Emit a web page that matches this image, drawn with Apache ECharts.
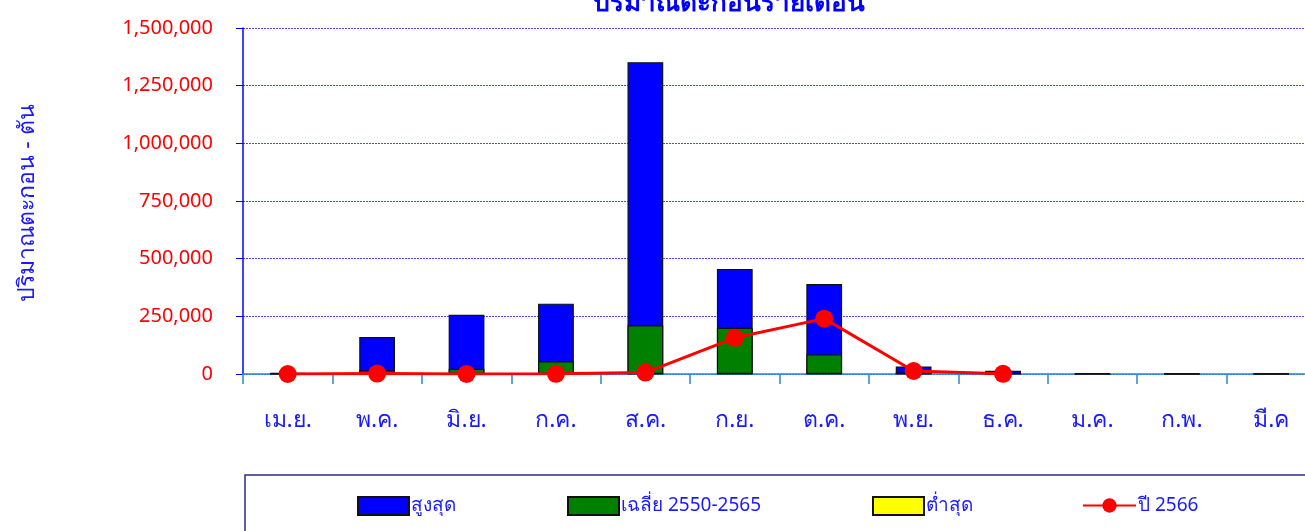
<!DOCTYPE html>
<html>
<head>
<meta charset="utf-8">
<script src="https://cdn.jsdelivr.net/npm/echarts@6/dist/echarts.min.js"></script>
<style>
  html, body { margin: 0; padding: 0; background: #fff; overflow: hidden; }
  #chart { width: 1316px; height: 531px; }
</style>
</head>
<body>
<div id="chart"></div>
<script>
// Monthly sediment volume (tons), water-year order April to March
const months = ['เม.ย.', 'พ.ค.', 'มิ.ย.', 'ก.ค.', 'ส.ค.', 'ก.ย.', 'ต.ค.', 'พ.ย.', 'ธ.ค.', 'ม.ค.', 'ก.พ.', 'มี.ค'];
const maxValues = [5000, 160000, 257000, 305000, 1352000, 455000, 390000, 33000, 14000, 2500, 1500, 1500];
const avgValues = [1500, 16000, 23000, 55000, 211000, 200000, 85000, 6000, 3000, 1000, 600, 600];
const minValues = [0, 0, 0, 0, 0, 0, 0, 0, 0, 0, 0, 0];
const year2566 = [0, 2000, 0, 1000, 6000, 157000, 240000, 13000, 1000, null, null, null];
const yTicks = { min: 0, max: 1500000, interval: 250000 };

const seriesNames = ['สูงสุด', 'เฉลี่ย 2550-2565', 'ต่ำสุด', 'ปี 2566'];
const fontFamily = "'Noto Sans', 'DejaVu Sans', sans-serif";

const chart = echarts.init(document.getElementById('chart'));

const barStyle = (color) => ({ color: color, borderColor: '#111', borderWidth: 1.2 });

function legendAt(name, left, icon) {
  return {
    data: [name],
    left: left,
    top: 496,
    icon: icon,
    itemWidth: 51,
    itemHeight: 18,
    itemGap: 0,
    padding: 0,
    textStyle: { color: '#1a1aff', fontSize: 19, fontFamily: fontFamily, padding: [0, 0, 0, -3] }
  };
}

chart.setOption({
  animation: false,
  title: {
    text: 'ปริมาณตะกอนรายเดือน',
    left: 588,
    top: -14,
    textStyle: { color: '#0000ff', fontSize: 26, fontWeight: 'bold', fontFamily: fontFamily }
  },
  legend: [
    legendAt(seriesNames[0], 357, 'rect'),
    legendAt(seriesNames[1], 567, 'rect'),
    legendAt(seriesNames[2], 872, 'rect'),
    { ...legendAt(seriesNames[3], 1082), itemWidth: 53 }
  ],
  graphic: [{
    type: 'rect',
    shape: { x: 245, y: 475, width: 1090, height: 80 },
    style: { fill: 'none', stroke: '#2b2b8f', lineWidth: 1.5 },
    silent: true
  }, {
    type: 'text',
    rotation: Math.PI / 2,
    x: 27, y: 203,
    style: {
      text: 'ปริมาณตะกอน - ตัน',
      fill: '#1a1aff',
      font: "23px 'Noto Sans', 'DejaVu Sans', sans-serif",
      align: 'center',
      verticalAlign: 'middle'
    }
  }],
  grid: { left: 243, top: 28, right: 0, bottom: 157 },
  xAxis: {
    type: 'category',
    data: months,
    axisLine: { lineStyle: { color: '#2a86d6', width: 1.5 } },
    axisTick: { show: true, alignWithLabel: false, length: 10, lineStyle: { color: '#2a86d6', width: 1.5 } },
    axisLabel: { color: '#1a1aff', fontSize: 23, margin: 35, fontFamily: fontFamily, interval: 0 }
  },
  yAxis: {
    type: 'value',
    min: yTicks.min,
    max: yTicks.max,
    interval: yTicks.interval,
    axisLine: { show: true, lineStyle: { color: '#0000ff', width: 1.5 } },
    axisTick: { show: true, length: 7, lineStyle: { color: '#0000ff' } },
    axisLabel: {
      color: '#ff0000', fontSize: 20, margin: 30, fontFamily: fontFamily,
      formatter: (v) => v.toLocaleString('en-US')
    },
    splitLine: { show: true, lineStyle: { color: '#4a4aff', type: [2, 1], width: 1 } }
  },
  series: [
    { name: seriesNames[0], type: 'bar', data: maxValues, barWidth: '40%', barGap: '-100%', itemStyle: barStyle('#0000ff') },
    { name: seriesNames[1], type: 'bar', data: avgValues, barWidth: '40%', barGap: '-100%', itemStyle: barStyle('#008000') },
    { name: seriesNames[2], type: 'bar', data: minValues, barWidth: '40%', barGap: '-100%', itemStyle: barStyle('#ffff00') },
    {
      name: seriesNames[3], type: 'line', data: year2566,
      symbol: 'circle', symbolSize: 18,
      lineStyle: { color: '#ff0000', width: 3 },
      itemStyle: { color: '#ff0000' },
      z: 5
    }
  ]
});
</script>
</body>
</html>
